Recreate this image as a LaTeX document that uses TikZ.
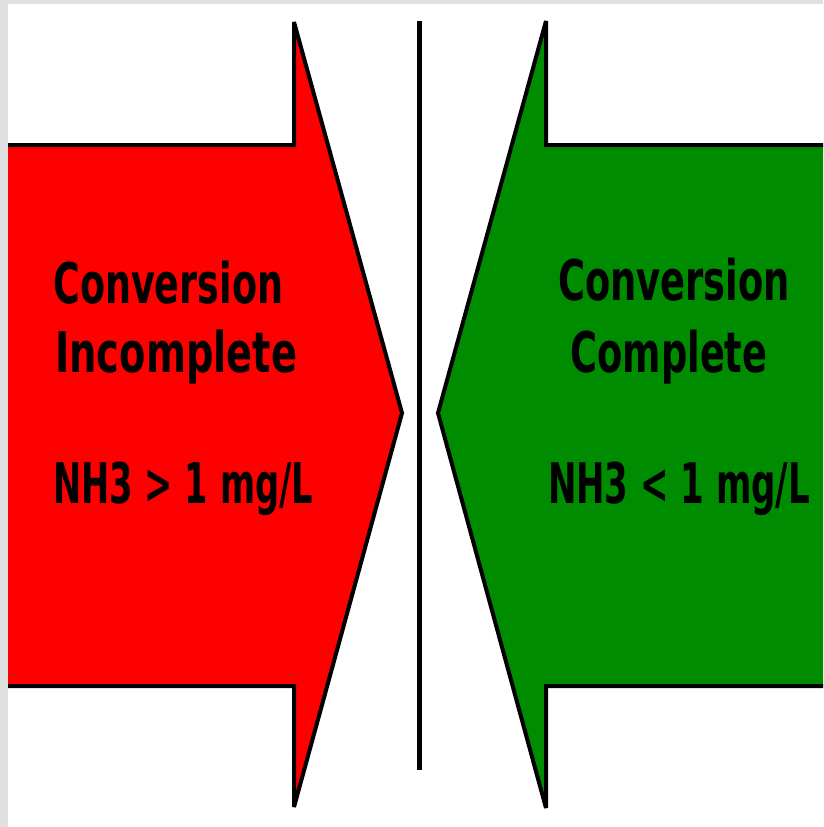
\documentclass[tikz,border=0pt]{standalone}
\usepackage{fontspec}
\setmainfont{DejaVu Sans}
\usepackage{graphicx}
\definecolor{arrred}{RGB}{255,0,0}
\definecolor{arrgreen}{RGB}{0,140,0}
\definecolor{framegray}{RGB}{224,224,224}
\newcommand{\fitlbl}[2]{\resizebox{#1}{\height}{\fontsize{56}{60}\selectfont\bfseries #2}}
\tikzset{
  arrowshape/.style={draw=black, line width=4pt, line join=miter, miter limit=1.5},
  lbl/.style={inner sep=0pt, text=black},
}
\begin{document}
\begin{tikzpicture}[x=1pt,y=-1pt]
\useasboundingbox (0,0) rectangle (823,827);
\fill[white] (0,0) rectangle (823,827);
\begin{scope}
\clip (0,0) rectangle (823,827);
% red arrow (points right)
\filldraw[arrowshape, fill=arrred] (-20,145) -- (294,145) -- (294,22) -- (402,413) -- (294,807) -- (294,686) -- (-20,686) -- cycle;
% green arrow (points left)
\filldraw[arrowshape, fill=arrgreen] (850,145) -- (546,145) -- (546,21) -- (438,413) -- (546,808) -- (546,686) -- (850,686) -- cycle;
\end{scope}
% divider
\coordinate (divtop) at (419,21);
\coordinate (divbot) at (419,770);
\draw[line width=5pt] (divtop) -- (divbot);
% frame bands
\fill[framegray] (0,0) rectangle (823,4);
\fill[framegray] (0,0) rectangle (7.5,827);
% labels left
\node[lbl, anchor=base west] (l1) at (53,303) {\fitlbl{230pt}{Conversion}};
\node[lbl, anchor=base west] (l2) at (55,372) {\fitlbl{242pt}{Incomplete}};
\node[lbl, anchor=base west] (l3) at (53,503) {\fitlbl{260pt}{NH3 > 1 mg/L}};
% labels right
\node[lbl, anchor=base] (r1) at (674,300) {\fitlbl{232pt}{Conversion}};
\node[lbl, anchor=base] (r2) at (669,372) {\fitlbl{197pt}{Complete}};
\node[lbl, anchor=base] (r3) at (679,503) {\fitlbl{262pt}{NH3 < 1 mg/L}};
\end{tikzpicture}
\end{document}
